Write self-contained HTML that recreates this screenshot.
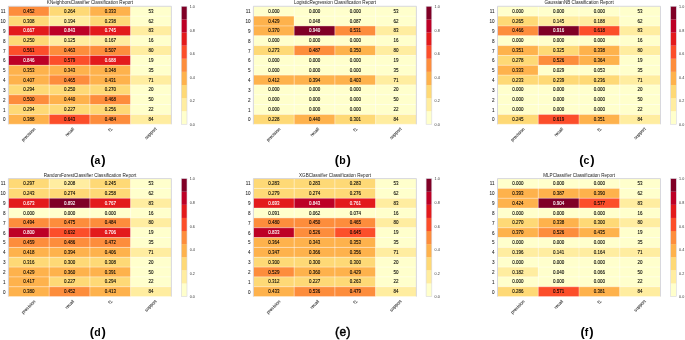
<!DOCTYPE html>
<html><head><meta charset="utf-8"><style>
html,body{margin:0;padding:0;background:#fff;width:685px;height:340px;overflow:hidden}
svg{display:block;will-change:transform}
text{font-family:"Liberation Sans",sans-serif}
.c{font-size:4.5px;text-anchor:middle;fill:#000;stroke:#000;stroke-width:0.08px}
.cw{fill:#fff;stroke:#fff}
.r{font-size:4.6px;text-anchor:end;fill:#222;stroke:#222;stroke-width:0.06px}
.t{font-size:4.6px;text-anchor:middle;fill:#222}
.x{font-size:4.4px;text-anchor:middle;fill:#333;stroke:#333;stroke-width:0.1px}
.k{font-size:3.7px;fill:#333}
.l{font-size:10.5px;font-weight:bold;text-anchor:middle;fill:#000}
.p{font-size:13px}
.le{font-weight:normal;stroke:#000;stroke-width:0.45px;font-size:12px}
.w{stroke:#fff;stroke-width:0.45;stroke-opacity:0.85}
.fr{fill:none;stroke:#d4d4dc;stroke-width:0.9}
.cbo{fill:none;stroke:#d8d8e0;stroke-width:0.6}
</style></head><body>
<svg width="685" height="340" viewBox="0 0 685 340">
<rect x="8.40" y="6.27" width="40.75" height="9.83" fill="#fd8d3c"/>
<rect x="49.15" y="6.27" width="40.75" height="9.83" fill="#fed976"/>
<rect x="89.90" y="6.27" width="40.75" height="9.83" fill="#feb24c"/>
<rect x="130.65" y="6.27" width="40.75" height="9.83" fill="#ffffcc"/>
<rect x="8.40" y="16.10" width="40.75" height="9.83" fill="#fed976"/>
<rect x="49.15" y="16.10" width="40.75" height="9.83" fill="#ffeda0"/>
<rect x="89.90" y="16.10" width="40.75" height="9.83" fill="#fed976"/>
<rect x="130.65" y="16.10" width="40.75" height="9.83" fill="#ffffcc"/>
<rect x="8.40" y="25.94" width="40.75" height="9.83" fill="#e31a1c"/>
<rect x="49.15" y="25.94" width="40.75" height="9.83" fill="#bd0026"/>
<rect x="89.90" y="25.94" width="40.75" height="9.83" fill="#e31a1c"/>
<rect x="130.65" y="25.94" width="40.75" height="9.83" fill="#ffeda0"/>
<rect x="8.40" y="35.77" width="40.75" height="9.83" fill="#fed976"/>
<rect x="49.15" y="35.77" width="40.75" height="9.83" fill="#ffeda0"/>
<rect x="89.90" y="35.77" width="40.75" height="9.83" fill="#ffeda0"/>
<rect x="130.65" y="35.77" width="40.75" height="9.83" fill="#ffffcc"/>
<rect x="8.40" y="45.60" width="40.75" height="9.83" fill="#fc4e2a"/>
<rect x="49.15" y="45.60" width="40.75" height="9.83" fill="#fd8d3c"/>
<rect x="89.90" y="45.60" width="40.75" height="9.83" fill="#fd8d3c"/>
<rect x="130.65" y="45.60" width="40.75" height="9.83" fill="#ffeda0"/>
<rect x="8.40" y="55.44" width="40.75" height="9.83" fill="#bd0026"/>
<rect x="49.15" y="55.44" width="40.75" height="9.83" fill="#fc4e2a"/>
<rect x="89.90" y="55.44" width="40.75" height="9.83" fill="#e31a1c"/>
<rect x="130.65" y="55.44" width="40.75" height="9.83" fill="#ffffcc"/>
<rect x="8.40" y="65.27" width="40.75" height="9.83" fill="#feb24c"/>
<rect x="49.15" y="65.27" width="40.75" height="9.83" fill="#feb24c"/>
<rect x="89.90" y="65.27" width="40.75" height="9.83" fill="#feb24c"/>
<rect x="130.65" y="65.27" width="40.75" height="9.83" fill="#ffffcc"/>
<rect x="8.40" y="75.10" width="40.75" height="9.83" fill="#feb24c"/>
<rect x="49.15" y="75.10" width="40.75" height="9.83" fill="#fd8d3c"/>
<rect x="89.90" y="75.10" width="40.75" height="9.83" fill="#feb24c"/>
<rect x="130.65" y="75.10" width="40.75" height="9.83" fill="#ffeda0"/>
<rect x="8.40" y="84.94" width="40.75" height="9.83" fill="#fed976"/>
<rect x="49.15" y="84.94" width="40.75" height="9.83" fill="#fed976"/>
<rect x="89.90" y="84.94" width="40.75" height="9.83" fill="#fed976"/>
<rect x="130.65" y="84.94" width="40.75" height="9.83" fill="#ffffcc"/>
<rect x="8.40" y="94.77" width="40.75" height="9.83" fill="#fd8d3c"/>
<rect x="49.15" y="94.77" width="40.75" height="9.83" fill="#feb24c"/>
<rect x="89.90" y="94.77" width="40.75" height="9.83" fill="#fd8d3c"/>
<rect x="130.65" y="94.77" width="40.75" height="9.83" fill="#ffffcc"/>
<rect x="8.40" y="104.60" width="40.75" height="9.83" fill="#fed976"/>
<rect x="49.15" y="104.60" width="40.75" height="9.83" fill="#fed976"/>
<rect x="89.90" y="104.60" width="40.75" height="9.83" fill="#fed976"/>
<rect x="130.65" y="104.60" width="40.75" height="9.83" fill="#ffffcc"/>
<rect x="8.40" y="114.44" width="40.75" height="9.83" fill="#feb24c"/>
<rect x="49.15" y="114.44" width="40.75" height="9.83" fill="#fc4e2a"/>
<rect x="89.90" y="114.44" width="40.75" height="9.83" fill="#fd8d3c"/>
<rect x="130.65" y="114.44" width="40.75" height="9.83" fill="#ffeda0"/>
<line x1="8.4" x2="171.4" y1="16.10" y2="16.10" class="w"/>
<line x1="8.4" x2="171.4" y1="25.94" y2="25.94" class="w"/>
<line x1="8.4" x2="171.4" y1="35.77" y2="35.77" class="w"/>
<line x1="8.4" x2="171.4" y1="45.60" y2="45.60" class="w"/>
<line x1="8.4" x2="171.4" y1="55.44" y2="55.44" class="w"/>
<line x1="8.4" x2="171.4" y1="65.27" y2="65.27" class="w"/>
<line x1="8.4" x2="171.4" y1="75.10" y2="75.10" class="w"/>
<line x1="8.4" x2="171.4" y1="84.94" y2="84.94" class="w"/>
<line x1="8.4" x2="171.4" y1="94.77" y2="94.77" class="w"/>
<line x1="8.4" x2="171.4" y1="104.60" y2="104.60" class="w"/>
<line x1="8.4" x2="171.4" y1="114.44" y2="114.44" class="w"/>
<line x1="8.4" x2="171.4" y1="124.27" y2="124.27" class="w"/>
<line x1="49.15" x2="49.15" y1="6.27" y2="124.27" class="w"/>
<line x1="89.90" x2="89.90" y1="6.27" y2="124.27" class="w"/>
<line x1="130.65" x2="130.65" y1="6.27" y2="124.27" class="w"/>
<path d="M8.4,124.27V6.27H171.4V124.27" class="fr"/>
<text x="28.77" y="12.79" class="c">0.452</text>
<text x="69.53" y="12.79" class="c">0.264</text>
<text x="110.28" y="12.79" class="c">0.333</text>
<text x="151.03" y="12.79" class="c">53</text>
<text x="5.50" y="13.19" class="r">11</text>
<text x="28.77" y="22.62" class="c">0.308</text>
<text x="69.53" y="22.62" class="c">0.194</text>
<text x="110.28" y="22.62" class="c">0.238</text>
<text x="151.03" y="22.62" class="c">62</text>
<text x="5.50" y="23.02" class="r">10</text>
<text x="28.77" y="32.45" class="c cw">0.667</text>
<text x="69.53" y="32.45" class="c cw">0.843</text>
<text x="110.28" y="32.45" class="c cw">0.745</text>
<text x="151.03" y="32.45" class="c">83</text>
<text x="5.50" y="32.85" class="r">9</text>
<text x="28.77" y="42.29" class="c">0.250</text>
<text x="69.53" y="42.29" class="c">0.125</text>
<text x="110.28" y="42.29" class="c">0.167</text>
<text x="151.03" y="42.29" class="c">16</text>
<text x="5.50" y="42.69" class="r">8</text>
<text x="28.77" y="52.12" class="c">0.561</text>
<text x="69.53" y="52.12" class="c">0.463</text>
<text x="110.28" y="52.12" class="c">0.507</text>
<text x="151.03" y="52.12" class="c">80</text>
<text x="5.50" y="52.52" class="r">7</text>
<text x="28.77" y="61.95" class="c cw">0.846</text>
<text x="69.53" y="61.95" class="c">0.579</text>
<text x="110.28" y="61.95" class="c cw">0.688</text>
<text x="151.03" y="61.95" class="c">19</text>
<text x="5.50" y="62.35" class="r">6</text>
<text x="28.77" y="71.79" class="c">0.353</text>
<text x="69.53" y="71.79" class="c">0.343</text>
<text x="110.28" y="71.79" class="c">0.348</text>
<text x="151.03" y="71.79" class="c">35</text>
<text x="5.50" y="72.19" class="r">5</text>
<text x="28.77" y="81.62" class="c">0.407</text>
<text x="69.53" y="81.62" class="c">0.465</text>
<text x="110.28" y="81.62" class="c">0.431</text>
<text x="151.03" y="81.62" class="c">71</text>
<text x="5.50" y="82.02" class="r">4</text>
<text x="28.77" y="91.45" class="c">0.294</text>
<text x="69.53" y="91.45" class="c">0.250</text>
<text x="110.28" y="91.45" class="c">0.270</text>
<text x="151.03" y="91.45" class="c">20</text>
<text x="5.50" y="91.85" class="r">3</text>
<text x="28.77" y="101.29" class="c">0.500</text>
<text x="69.53" y="101.29" class="c">0.440</text>
<text x="110.28" y="101.29" class="c">0.468</text>
<text x="151.03" y="101.29" class="c">50</text>
<text x="5.50" y="101.69" class="r">2</text>
<text x="28.77" y="111.12" class="c">0.294</text>
<text x="69.53" y="111.12" class="c">0.227</text>
<text x="110.28" y="111.12" class="c">0.256</text>
<text x="151.03" y="111.12" class="c">22</text>
<text x="5.50" y="111.52" class="r">1</text>
<text x="28.77" y="120.95" class="c">0.388</text>
<text x="69.53" y="120.95" class="c">0.643</text>
<text x="110.28" y="120.95" class="c">0.484</text>
<text x="151.03" y="120.95" class="c">84</text>
<text x="5.50" y="121.35" class="r">0</text>
<text x="90.00" y="4.27" class="t">KNeighborsClassifier Classification Report</text>
<text class="x" transform="translate(28.77,134.84) rotate(-45)" y="1.12">precision</text>
<text class="x" transform="translate(69.53,132.02) rotate(-45)" y="1.56">recall</text>
<text class="x" transform="translate(110.28,129.59) rotate(-45)" y="1.58">f1</text>
<text class="x" transform="translate(151.03,133.70) rotate(-45)" y="0.97">support</text>
<rect x="181.3" y="111.16" width="5.7" height="13.16" fill="#ffffcc"/>
<rect x="181.3" y="98.05" width="5.7" height="13.16" fill="#ffeda0"/>
<rect x="181.3" y="84.94" width="5.7" height="13.16" fill="#fed976"/>
<rect x="181.3" y="71.83" width="5.7" height="13.16" fill="#feb24c"/>
<rect x="181.3" y="58.71" width="5.7" height="13.16" fill="#fd8d3c"/>
<rect x="181.3" y="45.60" width="5.7" height="13.16" fill="#fc4e2a"/>
<rect x="181.3" y="32.49" width="5.7" height="13.16" fill="#e31a1c"/>
<rect x="181.3" y="19.38" width="5.7" height="13.16" fill="#bd0026"/>
<rect x="181.3" y="6.27" width="5.7" height="13.16" fill="#800026"/>
<rect x="181.3" y="6.27" width="5.7" height="118" class="cbo"/>
<text x="189.80" y="126.02" class="k">0.0</text>
<text x="189.80" y="102.42" class="k">0.2</text>
<text x="189.80" y="78.82" class="k">0.4</text>
<text x="189.80" y="55.22" class="k">0.6</text>
<text x="189.80" y="31.62" class="k">0.8</text>
<text x="189.80" y="8.02" class="k">1.0</text>
<text x="97.85" y="163.5" class="l"><tspan class="p">(</tspan>a<tspan class="p" dx="0.9">)</tspan></text>
<rect x="253.40" y="6.27" width="40.75" height="9.83" fill="#ffffcc"/>
<rect x="294.15" y="6.27" width="40.75" height="9.83" fill="#ffffcc"/>
<rect x="334.90" y="6.27" width="40.75" height="9.83" fill="#ffffcc"/>
<rect x="375.65" y="6.27" width="40.75" height="9.83" fill="#ffffcc"/>
<rect x="253.40" y="16.10" width="40.75" height="9.83" fill="#feb24c"/>
<rect x="294.15" y="16.10" width="40.75" height="9.83" fill="#ffffcc"/>
<rect x="334.90" y="16.10" width="40.75" height="9.83" fill="#ffffcc"/>
<rect x="375.65" y="16.10" width="40.75" height="9.83" fill="#ffffcc"/>
<rect x="253.40" y="25.94" width="40.75" height="9.83" fill="#feb24c"/>
<rect x="294.15" y="25.94" width="40.75" height="9.83" fill="#800026"/>
<rect x="334.90" y="25.94" width="40.75" height="9.83" fill="#fd8d3c"/>
<rect x="375.65" y="25.94" width="40.75" height="9.83" fill="#ffeda0"/>
<rect x="253.40" y="35.77" width="40.75" height="9.83" fill="#ffffcc"/>
<rect x="294.15" y="35.77" width="40.75" height="9.83" fill="#ffffcc"/>
<rect x="334.90" y="35.77" width="40.75" height="9.83" fill="#ffffcc"/>
<rect x="375.65" y="35.77" width="40.75" height="9.83" fill="#ffffcc"/>
<rect x="253.40" y="45.60" width="40.75" height="9.83" fill="#fed976"/>
<rect x="294.15" y="45.60" width="40.75" height="9.83" fill="#fd8d3c"/>
<rect x="334.90" y="45.60" width="40.75" height="9.83" fill="#feb24c"/>
<rect x="375.65" y="45.60" width="40.75" height="9.83" fill="#ffeda0"/>
<rect x="253.40" y="55.44" width="40.75" height="9.83" fill="#ffffcc"/>
<rect x="294.15" y="55.44" width="40.75" height="9.83" fill="#ffffcc"/>
<rect x="334.90" y="55.44" width="40.75" height="9.83" fill="#ffffcc"/>
<rect x="375.65" y="55.44" width="40.75" height="9.83" fill="#ffffcc"/>
<rect x="253.40" y="65.27" width="40.75" height="9.83" fill="#ffffcc"/>
<rect x="294.15" y="65.27" width="40.75" height="9.83" fill="#ffffcc"/>
<rect x="334.90" y="65.27" width="40.75" height="9.83" fill="#ffffcc"/>
<rect x="375.65" y="65.27" width="40.75" height="9.83" fill="#ffffcc"/>
<rect x="253.40" y="75.10" width="40.75" height="9.83" fill="#feb24c"/>
<rect x="294.15" y="75.10" width="40.75" height="9.83" fill="#feb24c"/>
<rect x="334.90" y="75.10" width="40.75" height="9.83" fill="#feb24c"/>
<rect x="375.65" y="75.10" width="40.75" height="9.83" fill="#ffeda0"/>
<rect x="253.40" y="84.94" width="40.75" height="9.83" fill="#ffffcc"/>
<rect x="294.15" y="84.94" width="40.75" height="9.83" fill="#ffffcc"/>
<rect x="334.90" y="84.94" width="40.75" height="9.83" fill="#ffffcc"/>
<rect x="375.65" y="84.94" width="40.75" height="9.83" fill="#ffffcc"/>
<rect x="253.40" y="94.77" width="40.75" height="9.83" fill="#ffffcc"/>
<rect x="294.15" y="94.77" width="40.75" height="9.83" fill="#ffffcc"/>
<rect x="334.90" y="94.77" width="40.75" height="9.83" fill="#ffffcc"/>
<rect x="375.65" y="94.77" width="40.75" height="9.83" fill="#ffffcc"/>
<rect x="253.40" y="104.60" width="40.75" height="9.83" fill="#ffffcc"/>
<rect x="294.15" y="104.60" width="40.75" height="9.83" fill="#ffffcc"/>
<rect x="334.90" y="104.60" width="40.75" height="9.83" fill="#ffffcc"/>
<rect x="375.65" y="104.60" width="40.75" height="9.83" fill="#ffffcc"/>
<rect x="253.40" y="114.44" width="40.75" height="9.83" fill="#fed976"/>
<rect x="294.15" y="114.44" width="40.75" height="9.83" fill="#feb24c"/>
<rect x="334.90" y="114.44" width="40.75" height="9.83" fill="#fed976"/>
<rect x="375.65" y="114.44" width="40.75" height="9.83" fill="#ffeda0"/>
<line x1="253.4" x2="416.4" y1="16.10" y2="16.10" class="w"/>
<line x1="253.4" x2="416.4" y1="25.94" y2="25.94" class="w"/>
<line x1="253.4" x2="416.4" y1="35.77" y2="35.77" class="w"/>
<line x1="253.4" x2="416.4" y1="45.60" y2="45.60" class="w"/>
<line x1="253.4" x2="416.4" y1="55.44" y2="55.44" class="w"/>
<line x1="253.4" x2="416.4" y1="65.27" y2="65.27" class="w"/>
<line x1="253.4" x2="416.4" y1="75.10" y2="75.10" class="w"/>
<line x1="253.4" x2="416.4" y1="84.94" y2="84.94" class="w"/>
<line x1="253.4" x2="416.4" y1="94.77" y2="94.77" class="w"/>
<line x1="253.4" x2="416.4" y1="104.60" y2="104.60" class="w"/>
<line x1="253.4" x2="416.4" y1="114.44" y2="114.44" class="w"/>
<line x1="253.4" x2="416.4" y1="124.27" y2="124.27" class="w"/>
<line x1="294.15" x2="294.15" y1="6.27" y2="124.27" class="w"/>
<line x1="334.90" x2="334.90" y1="6.27" y2="124.27" class="w"/>
<line x1="375.65" x2="375.65" y1="6.27" y2="124.27" class="w"/>
<path d="M253.4,124.27V6.27H416.4V124.27" class="fr"/>
<text x="273.77" y="12.79" class="c">0.000</text>
<text x="314.52" y="12.79" class="c">0.000</text>
<text x="355.27" y="12.79" class="c">0.000</text>
<text x="396.02" y="12.79" class="c">53</text>
<text x="250.50" y="13.19" class="r">11</text>
<text x="273.77" y="22.62" class="c">0.429</text>
<text x="314.52" y="22.62" class="c">0.048</text>
<text x="355.27" y="22.62" class="c">0.087</text>
<text x="396.02" y="22.62" class="c">62</text>
<text x="250.50" y="23.02" class="r">10</text>
<text x="273.77" y="32.45" class="c">0.370</text>
<text x="314.52" y="32.45" class="c cw">0.940</text>
<text x="355.27" y="32.45" class="c">0.531</text>
<text x="396.02" y="32.45" class="c">83</text>
<text x="250.50" y="32.85" class="r">9</text>
<text x="273.77" y="42.29" class="c">0.000</text>
<text x="314.52" y="42.29" class="c">0.000</text>
<text x="355.27" y="42.29" class="c">0.000</text>
<text x="396.02" y="42.29" class="c">16</text>
<text x="250.50" y="42.69" class="r">8</text>
<text x="273.77" y="52.12" class="c">0.273</text>
<text x="314.52" y="52.12" class="c">0.487</text>
<text x="355.27" y="52.12" class="c">0.350</text>
<text x="396.02" y="52.12" class="c">80</text>
<text x="250.50" y="52.52" class="r">7</text>
<text x="273.77" y="61.95" class="c">0.000</text>
<text x="314.52" y="61.95" class="c">0.000</text>
<text x="355.27" y="61.95" class="c">0.000</text>
<text x="396.02" y="61.95" class="c">19</text>
<text x="250.50" y="62.35" class="r">6</text>
<text x="273.77" y="71.79" class="c">0.000</text>
<text x="314.52" y="71.79" class="c">0.000</text>
<text x="355.27" y="71.79" class="c">0.000</text>
<text x="396.02" y="71.79" class="c">35</text>
<text x="250.50" y="72.19" class="r">5</text>
<text x="273.77" y="81.62" class="c">0.412</text>
<text x="314.52" y="81.62" class="c">0.394</text>
<text x="355.27" y="81.62" class="c">0.403</text>
<text x="396.02" y="81.62" class="c">71</text>
<text x="250.50" y="82.02" class="r">4</text>
<text x="273.77" y="91.45" class="c">0.000</text>
<text x="314.52" y="91.45" class="c">0.000</text>
<text x="355.27" y="91.45" class="c">0.000</text>
<text x="396.02" y="91.45" class="c">20</text>
<text x="250.50" y="91.85" class="r">3</text>
<text x="273.77" y="101.29" class="c">0.000</text>
<text x="314.52" y="101.29" class="c">0.000</text>
<text x="355.27" y="101.29" class="c">0.000</text>
<text x="396.02" y="101.29" class="c">50</text>
<text x="250.50" y="101.69" class="r">2</text>
<text x="273.77" y="111.12" class="c">0.000</text>
<text x="314.52" y="111.12" class="c">0.000</text>
<text x="355.27" y="111.12" class="c">0.000</text>
<text x="396.02" y="111.12" class="c">22</text>
<text x="250.50" y="111.52" class="r">1</text>
<text x="273.77" y="120.95" class="c">0.228</text>
<text x="314.52" y="120.95" class="c">0.440</text>
<text x="355.27" y="120.95" class="c">0.301</text>
<text x="396.02" y="120.95" class="c">84</text>
<text x="250.50" y="121.35" class="r">0</text>
<text x="335.00" y="4.27" class="t">LogisticRegression Classification Report</text>
<text class="x" transform="translate(273.77,134.84) rotate(-45)" y="1.12">precision</text>
<text class="x" transform="translate(314.52,132.02) rotate(-45)" y="1.56">recall</text>
<text class="x" transform="translate(355.27,129.59) rotate(-45)" y="1.58">f1</text>
<text class="x" transform="translate(396.02,133.70) rotate(-45)" y="0.97">support</text>
<rect x="426.1" y="111.16" width="5.7" height="13.16" fill="#ffffcc"/>
<rect x="426.1" y="98.05" width="5.7" height="13.16" fill="#ffeda0"/>
<rect x="426.1" y="84.94" width="5.7" height="13.16" fill="#fed976"/>
<rect x="426.1" y="71.83" width="5.7" height="13.16" fill="#feb24c"/>
<rect x="426.1" y="58.71" width="5.7" height="13.16" fill="#fd8d3c"/>
<rect x="426.1" y="45.60" width="5.7" height="13.16" fill="#fc4e2a"/>
<rect x="426.1" y="32.49" width="5.7" height="13.16" fill="#e31a1c"/>
<rect x="426.1" y="19.38" width="5.7" height="13.16" fill="#bd0026"/>
<rect x="426.1" y="6.27" width="5.7" height="13.16" fill="#800026"/>
<rect x="426.1" y="6.27" width="5.7" height="118" class="cbo"/>
<text x="434.60" y="126.02" class="k">0.0</text>
<text x="434.60" y="102.42" class="k">0.2</text>
<text x="434.60" y="78.82" class="k">0.4</text>
<text x="434.60" y="55.22" class="k">0.6</text>
<text x="434.60" y="31.62" class="k">0.8</text>
<text x="434.60" y="8.02" class="k">1.0</text>
<text x="342.85" y="163.5" class="l"><tspan class="p">(</tspan>b<tspan class="p" dx="0.9">)</tspan></text>
<rect x="497.50" y="6.27" width="40.75" height="9.83" fill="#ffffcc"/>
<rect x="538.25" y="6.27" width="40.75" height="9.83" fill="#ffffcc"/>
<rect x="579.00" y="6.27" width="40.75" height="9.83" fill="#ffffcc"/>
<rect x="619.75" y="6.27" width="40.75" height="9.83" fill="#ffffcc"/>
<rect x="497.50" y="16.10" width="40.75" height="9.83" fill="#fed976"/>
<rect x="538.25" y="16.10" width="40.75" height="9.83" fill="#ffeda0"/>
<rect x="579.00" y="16.10" width="40.75" height="9.83" fill="#ffeda0"/>
<rect x="619.75" y="16.10" width="40.75" height="9.83" fill="#ffffcc"/>
<rect x="497.50" y="25.94" width="40.75" height="9.83" fill="#fd8d3c"/>
<rect x="538.25" y="25.94" width="40.75" height="9.83" fill="#800026"/>
<rect x="579.00" y="25.94" width="40.75" height="9.83" fill="#fc4e2a"/>
<rect x="619.75" y="25.94" width="40.75" height="9.83" fill="#ffeda0"/>
<rect x="497.50" y="35.77" width="40.75" height="9.83" fill="#ffffcc"/>
<rect x="538.25" y="35.77" width="40.75" height="9.83" fill="#ffffcc"/>
<rect x="579.00" y="35.77" width="40.75" height="9.83" fill="#ffffcc"/>
<rect x="619.75" y="35.77" width="40.75" height="9.83" fill="#ffffcc"/>
<rect x="497.50" y="45.60" width="40.75" height="9.83" fill="#feb24c"/>
<rect x="538.25" y="45.60" width="40.75" height="9.83" fill="#fed976"/>
<rect x="579.00" y="45.60" width="40.75" height="9.83" fill="#feb24c"/>
<rect x="619.75" y="45.60" width="40.75" height="9.83" fill="#ffeda0"/>
<rect x="497.50" y="55.44" width="40.75" height="9.83" fill="#fed976"/>
<rect x="538.25" y="55.44" width="40.75" height="9.83" fill="#fd8d3c"/>
<rect x="579.00" y="55.44" width="40.75" height="9.83" fill="#feb24c"/>
<rect x="619.75" y="55.44" width="40.75" height="9.83" fill="#ffffcc"/>
<rect x="497.50" y="65.27" width="40.75" height="9.83" fill="#feb24c"/>
<rect x="538.25" y="65.27" width="40.75" height="9.83" fill="#ffffcc"/>
<rect x="579.00" y="65.27" width="40.75" height="9.83" fill="#ffffcc"/>
<rect x="619.75" y="65.27" width="40.75" height="9.83" fill="#ffffcc"/>
<rect x="497.50" y="75.10" width="40.75" height="9.83" fill="#fed976"/>
<rect x="538.25" y="75.10" width="40.75" height="9.83" fill="#fed976"/>
<rect x="579.00" y="75.10" width="40.75" height="9.83" fill="#fed976"/>
<rect x="619.75" y="75.10" width="40.75" height="9.83" fill="#ffeda0"/>
<rect x="497.50" y="84.94" width="40.75" height="9.83" fill="#ffffcc"/>
<rect x="538.25" y="84.94" width="40.75" height="9.83" fill="#ffffcc"/>
<rect x="579.00" y="84.94" width="40.75" height="9.83" fill="#ffffcc"/>
<rect x="619.75" y="84.94" width="40.75" height="9.83" fill="#ffffcc"/>
<rect x="497.50" y="94.77" width="40.75" height="9.83" fill="#ffffcc"/>
<rect x="538.25" y="94.77" width="40.75" height="9.83" fill="#ffffcc"/>
<rect x="579.00" y="94.77" width="40.75" height="9.83" fill="#ffffcc"/>
<rect x="619.75" y="94.77" width="40.75" height="9.83" fill="#ffffcc"/>
<rect x="497.50" y="104.60" width="40.75" height="9.83" fill="#ffffcc"/>
<rect x="538.25" y="104.60" width="40.75" height="9.83" fill="#ffffcc"/>
<rect x="579.00" y="104.60" width="40.75" height="9.83" fill="#ffffcc"/>
<rect x="619.75" y="104.60" width="40.75" height="9.83" fill="#ffffcc"/>
<rect x="497.50" y="114.44" width="40.75" height="9.83" fill="#fed976"/>
<rect x="538.25" y="114.44" width="40.75" height="9.83" fill="#fc4e2a"/>
<rect x="579.00" y="114.44" width="40.75" height="9.83" fill="#feb24c"/>
<rect x="619.75" y="114.44" width="40.75" height="9.83" fill="#ffeda0"/>
<line x1="497.5" x2="660.5" y1="16.10" y2="16.10" class="w"/>
<line x1="497.5" x2="660.5" y1="25.94" y2="25.94" class="w"/>
<line x1="497.5" x2="660.5" y1="35.77" y2="35.77" class="w"/>
<line x1="497.5" x2="660.5" y1="45.60" y2="45.60" class="w"/>
<line x1="497.5" x2="660.5" y1="55.44" y2="55.44" class="w"/>
<line x1="497.5" x2="660.5" y1="65.27" y2="65.27" class="w"/>
<line x1="497.5" x2="660.5" y1="75.10" y2="75.10" class="w"/>
<line x1="497.5" x2="660.5" y1="84.94" y2="84.94" class="w"/>
<line x1="497.5" x2="660.5" y1="94.77" y2="94.77" class="w"/>
<line x1="497.5" x2="660.5" y1="104.60" y2="104.60" class="w"/>
<line x1="497.5" x2="660.5" y1="114.44" y2="114.44" class="w"/>
<line x1="497.5" x2="660.5" y1="124.27" y2="124.27" class="w"/>
<line x1="538.25" x2="538.25" y1="6.27" y2="124.27" class="w"/>
<line x1="579.00" x2="579.00" y1="6.27" y2="124.27" class="w"/>
<line x1="619.75" x2="619.75" y1="6.27" y2="124.27" class="w"/>
<path d="M497.5,124.27V6.27H660.5V124.27" class="fr"/>
<text x="517.88" y="12.79" class="c">0.000</text>
<text x="558.62" y="12.79" class="c">0.000</text>
<text x="599.38" y="12.79" class="c">0.000</text>
<text x="640.12" y="12.79" class="c">53</text>
<text x="494.60" y="13.19" class="r">11</text>
<text x="517.88" y="22.62" class="c">0.265</text>
<text x="558.62" y="22.62" class="c">0.145</text>
<text x="599.38" y="22.62" class="c">0.188</text>
<text x="640.12" y="22.62" class="c">62</text>
<text x="494.60" y="23.02" class="r">10</text>
<text x="517.88" y="32.45" class="c">0.466</text>
<text x="558.62" y="32.45" class="c cw">0.916</text>
<text x="599.38" y="32.45" class="c">0.618</text>
<text x="640.12" y="32.45" class="c">83</text>
<text x="494.60" y="32.85" class="r">9</text>
<text x="517.88" y="42.29" class="c">0.000</text>
<text x="558.62" y="42.29" class="c">0.000</text>
<text x="599.38" y="42.29" class="c">0.000</text>
<text x="640.12" y="42.29" class="c">16</text>
<text x="494.60" y="42.69" class="r">8</text>
<text x="517.88" y="52.12" class="c">0.351</text>
<text x="558.62" y="52.12" class="c">0.325</text>
<text x="599.38" y="52.12" class="c">0.338</text>
<text x="640.12" y="52.12" class="c">80</text>
<text x="494.60" y="52.52" class="r">7</text>
<text x="517.88" y="61.95" class="c">0.278</text>
<text x="558.62" y="61.95" class="c">0.526</text>
<text x="599.38" y="61.95" class="c">0.364</text>
<text x="640.12" y="61.95" class="c">19</text>
<text x="494.60" y="62.35" class="r">6</text>
<text x="517.88" y="71.79" class="c">0.333</text>
<text x="558.62" y="71.79" class="c">0.029</text>
<text x="599.38" y="71.79" class="c">0.053</text>
<text x="640.12" y="71.79" class="c">35</text>
<text x="494.60" y="72.19" class="r">5</text>
<text x="517.88" y="81.62" class="c">0.233</text>
<text x="558.62" y="81.62" class="c">0.239</text>
<text x="599.38" y="81.62" class="c">0.236</text>
<text x="640.12" y="81.62" class="c">71</text>
<text x="494.60" y="82.02" class="r">4</text>
<text x="517.88" y="91.45" class="c">0.000</text>
<text x="558.62" y="91.45" class="c">0.000</text>
<text x="599.38" y="91.45" class="c">0.000</text>
<text x="640.12" y="91.45" class="c">20</text>
<text x="494.60" y="91.85" class="r">3</text>
<text x="517.88" y="101.29" class="c">0.000</text>
<text x="558.62" y="101.29" class="c">0.000</text>
<text x="599.38" y="101.29" class="c">0.000</text>
<text x="640.12" y="101.29" class="c">50</text>
<text x="494.60" y="101.69" class="r">2</text>
<text x="517.88" y="111.12" class="c">0.000</text>
<text x="558.62" y="111.12" class="c">0.000</text>
<text x="599.38" y="111.12" class="c">0.000</text>
<text x="640.12" y="111.12" class="c">22</text>
<text x="494.60" y="111.52" class="r">1</text>
<text x="517.88" y="120.95" class="c">0.245</text>
<text x="558.62" y="120.95" class="c">0.619</text>
<text x="599.38" y="120.95" class="c">0.351</text>
<text x="640.12" y="120.95" class="c">84</text>
<text x="494.60" y="121.35" class="r">0</text>
<text x="579.10" y="4.27" class="t">GaussianNB Classification Report</text>
<text class="x" transform="translate(517.88,134.84) rotate(-45)" y="1.12">precision</text>
<text class="x" transform="translate(558.62,132.02) rotate(-45)" y="1.56">recall</text>
<text class="x" transform="translate(599.38,129.59) rotate(-45)" y="1.58">f1</text>
<text class="x" transform="translate(640.12,133.70) rotate(-45)" y="0.97">support</text>
<rect x="670.6" y="111.16" width="5.7" height="13.16" fill="#ffffcc"/>
<rect x="670.6" y="98.05" width="5.7" height="13.16" fill="#ffeda0"/>
<rect x="670.6" y="84.94" width="5.7" height="13.16" fill="#fed976"/>
<rect x="670.6" y="71.83" width="5.7" height="13.16" fill="#feb24c"/>
<rect x="670.6" y="58.71" width="5.7" height="13.16" fill="#fd8d3c"/>
<rect x="670.6" y="45.60" width="5.7" height="13.16" fill="#fc4e2a"/>
<rect x="670.6" y="32.49" width="5.7" height="13.16" fill="#e31a1c"/>
<rect x="670.6" y="19.38" width="5.7" height="13.16" fill="#bd0026"/>
<rect x="670.6" y="6.27" width="5.7" height="13.16" fill="#800026"/>
<rect x="670.6" y="6.27" width="5.7" height="118" class="cbo"/>
<text x="679.10" y="126.02" class="k">0.0</text>
<text x="679.10" y="102.42" class="k">0.2</text>
<text x="679.10" y="78.82" class="k">0.4</text>
<text x="679.10" y="55.22" class="k">0.6</text>
<text x="679.10" y="31.62" class="k">0.8</text>
<text x="679.10" y="8.02" class="k">1.0</text>
<text x="586.95" y="163.5" class="l"><tspan class="p">(</tspan>c<tspan class="p" dx="0.9">)</tspan></text>
<rect x="8.40" y="178.57" width="40.75" height="9.83" fill="#fed976"/>
<rect x="49.15" y="178.57" width="40.75" height="9.83" fill="#ffeda0"/>
<rect x="89.90" y="178.57" width="40.75" height="9.83" fill="#fed976"/>
<rect x="130.65" y="178.57" width="40.75" height="9.83" fill="#ffffcc"/>
<rect x="8.40" y="188.40" width="40.75" height="9.83" fill="#fed976"/>
<rect x="49.15" y="188.40" width="40.75" height="9.83" fill="#fed976"/>
<rect x="89.90" y="188.40" width="40.75" height="9.83" fill="#fed976"/>
<rect x="130.65" y="188.40" width="40.75" height="9.83" fill="#ffffcc"/>
<rect x="8.40" y="198.24" width="40.75" height="9.83" fill="#e31a1c"/>
<rect x="49.15" y="198.24" width="40.75" height="9.83" fill="#800026"/>
<rect x="89.90" y="198.24" width="40.75" height="9.83" fill="#e31a1c"/>
<rect x="130.65" y="198.24" width="40.75" height="9.83" fill="#ffeda0"/>
<rect x="8.40" y="208.07" width="40.75" height="9.83" fill="#ffffcc"/>
<rect x="49.15" y="208.07" width="40.75" height="9.83" fill="#ffffcc"/>
<rect x="89.90" y="208.07" width="40.75" height="9.83" fill="#ffffcc"/>
<rect x="130.65" y="208.07" width="40.75" height="9.83" fill="#ffffcc"/>
<rect x="8.40" y="217.90" width="40.75" height="9.83" fill="#fd8d3c"/>
<rect x="49.15" y="217.90" width="40.75" height="9.83" fill="#fd8d3c"/>
<rect x="89.90" y="217.90" width="40.75" height="9.83" fill="#fd8d3c"/>
<rect x="130.65" y="217.90" width="40.75" height="9.83" fill="#ffeda0"/>
<rect x="8.40" y="227.74" width="40.75" height="9.83" fill="#bd0026"/>
<rect x="49.15" y="227.74" width="40.75" height="9.83" fill="#fc4e2a"/>
<rect x="89.90" y="227.74" width="40.75" height="9.83" fill="#e31a1c"/>
<rect x="130.65" y="227.74" width="40.75" height="9.83" fill="#ffffcc"/>
<rect x="8.40" y="237.57" width="40.75" height="9.83" fill="#fd8d3c"/>
<rect x="49.15" y="237.57" width="40.75" height="9.83" fill="#fd8d3c"/>
<rect x="89.90" y="237.57" width="40.75" height="9.83" fill="#fd8d3c"/>
<rect x="130.65" y="237.57" width="40.75" height="9.83" fill="#ffffcc"/>
<rect x="8.40" y="247.40" width="40.75" height="9.83" fill="#feb24c"/>
<rect x="49.15" y="247.40" width="40.75" height="9.83" fill="#feb24c"/>
<rect x="89.90" y="247.40" width="40.75" height="9.83" fill="#feb24c"/>
<rect x="130.65" y="247.40" width="40.75" height="9.83" fill="#ffeda0"/>
<rect x="8.40" y="257.24" width="40.75" height="9.83" fill="#fed976"/>
<rect x="49.15" y="257.24" width="40.75" height="9.83" fill="#fed976"/>
<rect x="89.90" y="257.24" width="40.75" height="9.83" fill="#fed976"/>
<rect x="130.65" y="257.24" width="40.75" height="9.83" fill="#ffffcc"/>
<rect x="8.40" y="267.07" width="40.75" height="9.83" fill="#feb24c"/>
<rect x="49.15" y="267.07" width="40.75" height="9.83" fill="#feb24c"/>
<rect x="89.90" y="267.07" width="40.75" height="9.83" fill="#feb24c"/>
<rect x="130.65" y="267.07" width="40.75" height="9.83" fill="#ffffcc"/>
<rect x="8.40" y="276.90" width="40.75" height="9.83" fill="#feb24c"/>
<rect x="49.15" y="276.90" width="40.75" height="9.83" fill="#fed976"/>
<rect x="89.90" y="276.90" width="40.75" height="9.83" fill="#fed976"/>
<rect x="130.65" y="276.90" width="40.75" height="9.83" fill="#ffffcc"/>
<rect x="8.40" y="286.74" width="40.75" height="9.83" fill="#feb24c"/>
<rect x="49.15" y="286.74" width="40.75" height="9.83" fill="#fd8d3c"/>
<rect x="89.90" y="286.74" width="40.75" height="9.83" fill="#feb24c"/>
<rect x="130.65" y="286.74" width="40.75" height="9.83" fill="#ffeda0"/>
<line x1="8.4" x2="171.4" y1="188.40" y2="188.40" class="w"/>
<line x1="8.4" x2="171.4" y1="198.24" y2="198.24" class="w"/>
<line x1="8.4" x2="171.4" y1="208.07" y2="208.07" class="w"/>
<line x1="8.4" x2="171.4" y1="217.90" y2="217.90" class="w"/>
<line x1="8.4" x2="171.4" y1="227.74" y2="227.74" class="w"/>
<line x1="8.4" x2="171.4" y1="237.57" y2="237.57" class="w"/>
<line x1="8.4" x2="171.4" y1="247.40" y2="247.40" class="w"/>
<line x1="8.4" x2="171.4" y1="257.24" y2="257.24" class="w"/>
<line x1="8.4" x2="171.4" y1="267.07" y2="267.07" class="w"/>
<line x1="8.4" x2="171.4" y1="276.90" y2="276.90" class="w"/>
<line x1="8.4" x2="171.4" y1="286.74" y2="286.74" class="w"/>
<line x1="8.4" x2="171.4" y1="296.57" y2="296.57" class="w"/>
<line x1="49.15" x2="49.15" y1="178.57" y2="296.57" class="w"/>
<line x1="89.90" x2="89.90" y1="178.57" y2="296.57" class="w"/>
<line x1="130.65" x2="130.65" y1="178.57" y2="296.57" class="w"/>
<path d="M8.4,296.57V178.57H171.4V296.57" class="fr"/>
<text x="28.77" y="185.09" class="c">0.297</text>
<text x="69.53" y="185.09" class="c">0.208</text>
<text x="110.28" y="185.09" class="c">0.245</text>
<text x="151.03" y="185.09" class="c">53</text>
<text x="5.50" y="185.49" class="r">11</text>
<text x="28.77" y="194.92" class="c">0.243</text>
<text x="69.53" y="194.92" class="c">0.274</text>
<text x="110.28" y="194.92" class="c">0.258</text>
<text x="151.03" y="194.92" class="c">62</text>
<text x="5.50" y="195.32" class="r">10</text>
<text x="28.77" y="204.75" class="c cw">0.673</text>
<text x="69.53" y="204.75" class="c cw">0.892</text>
<text x="110.28" y="204.75" class="c cw">0.767</text>
<text x="151.03" y="204.75" class="c">83</text>
<text x="5.50" y="205.15" class="r">9</text>
<text x="28.77" y="214.59" class="c">0.000</text>
<text x="69.53" y="214.59" class="c">0.000</text>
<text x="110.28" y="214.59" class="c">0.000</text>
<text x="151.03" y="214.59" class="c">16</text>
<text x="5.50" y="214.99" class="r">8</text>
<text x="28.77" y="224.42" class="c">0.494</text>
<text x="69.53" y="224.42" class="c">0.475</text>
<text x="110.28" y="224.42" class="c">0.484</text>
<text x="151.03" y="224.42" class="c">80</text>
<text x="5.50" y="224.82" class="r">7</text>
<text x="28.77" y="234.25" class="c cw">0.800</text>
<text x="69.53" y="234.25" class="c">0.632</text>
<text x="110.28" y="234.25" class="c cw">0.706</text>
<text x="151.03" y="234.25" class="c">19</text>
<text x="5.50" y="234.65" class="r">6</text>
<text x="28.77" y="244.09" class="c">0.459</text>
<text x="69.53" y="244.09" class="c">0.486</text>
<text x="110.28" y="244.09" class="c">0.472</text>
<text x="151.03" y="244.09" class="c">35</text>
<text x="5.50" y="244.49" class="r">5</text>
<text x="28.77" y="253.92" class="c">0.418</text>
<text x="69.53" y="253.92" class="c">0.394</text>
<text x="110.28" y="253.92" class="c">0.406</text>
<text x="151.03" y="253.92" class="c">71</text>
<text x="5.50" y="254.32" class="r">4</text>
<text x="28.77" y="263.75" class="c">0.316</text>
<text x="69.53" y="263.75" class="c">0.300</text>
<text x="110.28" y="263.75" class="c">0.308</text>
<text x="151.03" y="263.75" class="c">20</text>
<text x="5.50" y="264.15" class="r">3</text>
<text x="28.77" y="273.59" class="c">0.429</text>
<text x="69.53" y="273.59" class="c">0.360</text>
<text x="110.28" y="273.59" class="c">0.391</text>
<text x="151.03" y="273.59" class="c">50</text>
<text x="5.50" y="273.99" class="r">2</text>
<text x="28.77" y="283.42" class="c">0.417</text>
<text x="69.53" y="283.42" class="c">0.227</text>
<text x="110.28" y="283.42" class="c">0.294</text>
<text x="151.03" y="283.42" class="c">22</text>
<text x="5.50" y="283.82" class="r">1</text>
<text x="28.77" y="293.25" class="c">0.380</text>
<text x="69.53" y="293.25" class="c">0.452</text>
<text x="110.28" y="293.25" class="c">0.413</text>
<text x="151.03" y="293.25" class="c">84</text>
<text x="5.50" y="293.65" class="r">0</text>
<text x="90.00" y="176.57" class="t">RandomForestClassifier Classification Report</text>
<text class="x" transform="translate(28.77,307.14) rotate(-45)" y="1.12">precision</text>
<text class="x" transform="translate(69.53,304.32) rotate(-45)" y="1.56">recall</text>
<text class="x" transform="translate(110.28,301.89) rotate(-45)" y="1.58">f1</text>
<text class="x" transform="translate(151.03,306.00) rotate(-45)" y="0.97">support</text>
<rect x="181.3" y="283.46" width="5.7" height="13.16" fill="#ffffcc"/>
<rect x="181.3" y="270.35" width="5.7" height="13.16" fill="#ffeda0"/>
<rect x="181.3" y="257.24" width="5.7" height="13.16" fill="#fed976"/>
<rect x="181.3" y="244.13" width="5.7" height="13.16" fill="#feb24c"/>
<rect x="181.3" y="231.01" width="5.7" height="13.16" fill="#fd8d3c"/>
<rect x="181.3" y="217.90" width="5.7" height="13.16" fill="#fc4e2a"/>
<rect x="181.3" y="204.79" width="5.7" height="13.16" fill="#e31a1c"/>
<rect x="181.3" y="191.68" width="5.7" height="13.16" fill="#bd0026"/>
<rect x="181.3" y="178.57" width="5.7" height="13.16" fill="#800026"/>
<rect x="181.3" y="178.57" width="5.7" height="118" class="cbo"/>
<text x="189.80" y="298.32" class="k">0.0</text>
<text x="189.80" y="274.72" class="k">0.2</text>
<text x="189.80" y="251.12" class="k">0.4</text>
<text x="189.80" y="227.52" class="k">0.6</text>
<text x="189.80" y="203.92" class="k">0.8</text>
<text x="189.80" y="180.32" class="k">1.0</text>
<text x="97.85" y="336.0" class="l"><tspan class="p">(</tspan>d<tspan class="p" dx="0.9">)</tspan></text>
<rect x="253.40" y="178.57" width="40.75" height="9.83" fill="#fed976"/>
<rect x="294.15" y="178.57" width="40.75" height="9.83" fill="#fed976"/>
<rect x="334.90" y="178.57" width="40.75" height="9.83" fill="#fed976"/>
<rect x="375.65" y="178.57" width="40.75" height="9.83" fill="#ffffcc"/>
<rect x="253.40" y="188.40" width="40.75" height="9.83" fill="#fed976"/>
<rect x="294.15" y="188.40" width="40.75" height="9.83" fill="#fed976"/>
<rect x="334.90" y="188.40" width="40.75" height="9.83" fill="#fed976"/>
<rect x="375.65" y="188.40" width="40.75" height="9.83" fill="#ffffcc"/>
<rect x="253.40" y="198.24" width="40.75" height="9.83" fill="#e31a1c"/>
<rect x="294.15" y="198.24" width="40.75" height="9.83" fill="#bd0026"/>
<rect x="334.90" y="198.24" width="40.75" height="9.83" fill="#e31a1c"/>
<rect x="375.65" y="198.24" width="40.75" height="9.83" fill="#ffeda0"/>
<rect x="253.40" y="208.07" width="40.75" height="9.83" fill="#ffffcc"/>
<rect x="294.15" y="208.07" width="40.75" height="9.83" fill="#ffffcc"/>
<rect x="334.90" y="208.07" width="40.75" height="9.83" fill="#ffffcc"/>
<rect x="375.65" y="208.07" width="40.75" height="9.83" fill="#ffffcc"/>
<rect x="253.40" y="217.90" width="40.75" height="9.83" fill="#fd8d3c"/>
<rect x="294.15" y="217.90" width="40.75" height="9.83" fill="#fd8d3c"/>
<rect x="334.90" y="217.90" width="40.75" height="9.83" fill="#fd8d3c"/>
<rect x="375.65" y="217.90" width="40.75" height="9.83" fill="#ffeda0"/>
<rect x="253.40" y="227.74" width="40.75" height="9.83" fill="#bd0026"/>
<rect x="294.15" y="227.74" width="40.75" height="9.83" fill="#fd8d3c"/>
<rect x="334.90" y="227.74" width="40.75" height="9.83" fill="#fc4e2a"/>
<rect x="375.65" y="227.74" width="40.75" height="9.83" fill="#ffffcc"/>
<rect x="253.40" y="237.57" width="40.75" height="9.83" fill="#feb24c"/>
<rect x="294.15" y="237.57" width="40.75" height="9.83" fill="#feb24c"/>
<rect x="334.90" y="237.57" width="40.75" height="9.83" fill="#feb24c"/>
<rect x="375.65" y="237.57" width="40.75" height="9.83" fill="#ffffcc"/>
<rect x="253.40" y="247.40" width="40.75" height="9.83" fill="#feb24c"/>
<rect x="294.15" y="247.40" width="40.75" height="9.83" fill="#feb24c"/>
<rect x="334.90" y="247.40" width="40.75" height="9.83" fill="#feb24c"/>
<rect x="375.65" y="247.40" width="40.75" height="9.83" fill="#ffeda0"/>
<rect x="253.40" y="257.24" width="40.75" height="9.83" fill="#fed976"/>
<rect x="294.15" y="257.24" width="40.75" height="9.83" fill="#fed976"/>
<rect x="334.90" y="257.24" width="40.75" height="9.83" fill="#fed976"/>
<rect x="375.65" y="257.24" width="40.75" height="9.83" fill="#ffffcc"/>
<rect x="253.40" y="267.07" width="40.75" height="9.83" fill="#fd8d3c"/>
<rect x="294.15" y="267.07" width="40.75" height="9.83" fill="#feb24c"/>
<rect x="334.90" y="267.07" width="40.75" height="9.83" fill="#feb24c"/>
<rect x="375.65" y="267.07" width="40.75" height="9.83" fill="#ffffcc"/>
<rect x="253.40" y="276.90" width="40.75" height="9.83" fill="#fed976"/>
<rect x="294.15" y="276.90" width="40.75" height="9.83" fill="#fed976"/>
<rect x="334.90" y="276.90" width="40.75" height="9.83" fill="#fed976"/>
<rect x="375.65" y="276.90" width="40.75" height="9.83" fill="#ffffcc"/>
<rect x="253.40" y="286.74" width="40.75" height="9.83" fill="#feb24c"/>
<rect x="294.15" y="286.74" width="40.75" height="9.83" fill="#fd8d3c"/>
<rect x="334.90" y="286.74" width="40.75" height="9.83" fill="#fd8d3c"/>
<rect x="375.65" y="286.74" width="40.75" height="9.83" fill="#ffeda0"/>
<line x1="253.4" x2="416.4" y1="188.40" y2="188.40" class="w"/>
<line x1="253.4" x2="416.4" y1="198.24" y2="198.24" class="w"/>
<line x1="253.4" x2="416.4" y1="208.07" y2="208.07" class="w"/>
<line x1="253.4" x2="416.4" y1="217.90" y2="217.90" class="w"/>
<line x1="253.4" x2="416.4" y1="227.74" y2="227.74" class="w"/>
<line x1="253.4" x2="416.4" y1="237.57" y2="237.57" class="w"/>
<line x1="253.4" x2="416.4" y1="247.40" y2="247.40" class="w"/>
<line x1="253.4" x2="416.4" y1="257.24" y2="257.24" class="w"/>
<line x1="253.4" x2="416.4" y1="267.07" y2="267.07" class="w"/>
<line x1="253.4" x2="416.4" y1="276.90" y2="276.90" class="w"/>
<line x1="253.4" x2="416.4" y1="286.74" y2="286.74" class="w"/>
<line x1="253.4" x2="416.4" y1="296.57" y2="296.57" class="w"/>
<line x1="294.15" x2="294.15" y1="178.57" y2="296.57" class="w"/>
<line x1="334.90" x2="334.90" y1="178.57" y2="296.57" class="w"/>
<line x1="375.65" x2="375.65" y1="178.57" y2="296.57" class="w"/>
<path d="M253.4,296.57V178.57H416.4V296.57" class="fr"/>
<text x="273.77" y="185.09" class="c">0.283</text>
<text x="314.52" y="185.09" class="c">0.283</text>
<text x="355.27" y="185.09" class="c">0.283</text>
<text x="396.02" y="185.09" class="c">53</text>
<text x="250.50" y="185.49" class="r">11</text>
<text x="273.77" y="194.92" class="c">0.279</text>
<text x="314.52" y="194.92" class="c">0.274</text>
<text x="355.27" y="194.92" class="c">0.276</text>
<text x="396.02" y="194.92" class="c">62</text>
<text x="250.50" y="195.32" class="r">10</text>
<text x="273.77" y="204.75" class="c cw">0.693</text>
<text x="314.52" y="204.75" class="c cw">0.843</text>
<text x="355.27" y="204.75" class="c cw">0.761</text>
<text x="396.02" y="204.75" class="c">83</text>
<text x="250.50" y="205.15" class="r">9</text>
<text x="273.77" y="214.59" class="c">0.091</text>
<text x="314.52" y="214.59" class="c">0.062</text>
<text x="355.27" y="214.59" class="c">0.074</text>
<text x="396.02" y="214.59" class="c">16</text>
<text x="250.50" y="214.99" class="r">8</text>
<text x="273.77" y="224.42" class="c">0.480</text>
<text x="314.52" y="224.42" class="c">0.450</text>
<text x="355.27" y="224.42" class="c">0.465</text>
<text x="396.02" y="224.42" class="c">80</text>
<text x="250.50" y="224.82" class="r">7</text>
<text x="273.77" y="234.25" class="c cw">0.833</text>
<text x="314.52" y="234.25" class="c">0.526</text>
<text x="355.27" y="234.25" class="c">0.645</text>
<text x="396.02" y="234.25" class="c">19</text>
<text x="250.50" y="234.65" class="r">6</text>
<text x="273.77" y="244.09" class="c">0.364</text>
<text x="314.52" y="244.09" class="c">0.343</text>
<text x="355.27" y="244.09" class="c">0.353</text>
<text x="396.02" y="244.09" class="c">35</text>
<text x="250.50" y="244.49" class="r">5</text>
<text x="273.77" y="253.92" class="c">0.347</text>
<text x="314.52" y="253.92" class="c">0.366</text>
<text x="355.27" y="253.92" class="c">0.356</text>
<text x="396.02" y="253.92" class="c">71</text>
<text x="250.50" y="254.32" class="r">4</text>
<text x="273.77" y="263.75" class="c">0.300</text>
<text x="314.52" y="263.75" class="c">0.300</text>
<text x="355.27" y="263.75" class="c">0.300</text>
<text x="396.02" y="263.75" class="c">20</text>
<text x="250.50" y="264.15" class="r">3</text>
<text x="273.77" y="273.59" class="c">0.529</text>
<text x="314.52" y="273.59" class="c">0.360</text>
<text x="355.27" y="273.59" class="c">0.429</text>
<text x="396.02" y="273.59" class="c">50</text>
<text x="250.50" y="273.99" class="r">2</text>
<text x="273.77" y="283.42" class="c">0.312</text>
<text x="314.52" y="283.42" class="c">0.227</text>
<text x="355.27" y="283.42" class="c">0.263</text>
<text x="396.02" y="283.42" class="c">22</text>
<text x="250.50" y="283.82" class="r">1</text>
<text x="273.77" y="293.25" class="c">0.433</text>
<text x="314.52" y="293.25" class="c">0.536</text>
<text x="355.27" y="293.25" class="c">0.479</text>
<text x="396.02" y="293.25" class="c">84</text>
<text x="250.50" y="293.65" class="r">0</text>
<text x="335.00" y="176.57" class="t">XGBClassifier Classification Report</text>
<text class="x" transform="translate(273.77,307.14) rotate(-45)" y="1.12">precision</text>
<text class="x" transform="translate(314.52,304.32) rotate(-45)" y="1.56">recall</text>
<text class="x" transform="translate(355.27,301.89) rotate(-45)" y="1.58">f1</text>
<text class="x" transform="translate(396.02,306.00) rotate(-45)" y="0.97">support</text>
<rect x="426.1" y="283.46" width="5.7" height="13.16" fill="#ffffcc"/>
<rect x="426.1" y="270.35" width="5.7" height="13.16" fill="#ffeda0"/>
<rect x="426.1" y="257.24" width="5.7" height="13.16" fill="#fed976"/>
<rect x="426.1" y="244.13" width="5.7" height="13.16" fill="#feb24c"/>
<rect x="426.1" y="231.01" width="5.7" height="13.16" fill="#fd8d3c"/>
<rect x="426.1" y="217.90" width="5.7" height="13.16" fill="#fc4e2a"/>
<rect x="426.1" y="204.79" width="5.7" height="13.16" fill="#e31a1c"/>
<rect x="426.1" y="191.68" width="5.7" height="13.16" fill="#bd0026"/>
<rect x="426.1" y="178.57" width="5.7" height="13.16" fill="#800026"/>
<rect x="426.1" y="178.57" width="5.7" height="118" class="cbo"/>
<text x="434.60" y="298.32" class="k">0.0</text>
<text x="434.60" y="274.72" class="k">0.2</text>
<text x="434.60" y="251.12" class="k">0.4</text>
<text x="434.60" y="227.52" class="k">0.6</text>
<text x="434.60" y="203.92" class="k">0.8</text>
<text x="434.60" y="180.32" class="k">1.0</text>
<text x="342.85" y="336.0" class="l le"><tspan class="p">(</tspan>e<tspan class="p" dx="0.2">)</tspan></text>
<rect x="497.50" y="178.57" width="40.75" height="9.83" fill="#ffffcc"/>
<rect x="538.25" y="178.57" width="40.75" height="9.83" fill="#ffffcc"/>
<rect x="579.00" y="178.57" width="40.75" height="9.83" fill="#ffffcc"/>
<rect x="619.75" y="178.57" width="40.75" height="9.83" fill="#ffffcc"/>
<rect x="497.50" y="188.40" width="40.75" height="9.83" fill="#feb24c"/>
<rect x="538.25" y="188.40" width="40.75" height="9.83" fill="#feb24c"/>
<rect x="579.00" y="188.40" width="40.75" height="9.83" fill="#feb24c"/>
<rect x="619.75" y="188.40" width="40.75" height="9.83" fill="#ffffcc"/>
<rect x="497.50" y="198.24" width="40.75" height="9.83" fill="#feb24c"/>
<rect x="538.25" y="198.24" width="40.75" height="9.83" fill="#800026"/>
<rect x="579.00" y="198.24" width="40.75" height="9.83" fill="#fc4e2a"/>
<rect x="619.75" y="198.24" width="40.75" height="9.83" fill="#ffeda0"/>
<rect x="497.50" y="208.07" width="40.75" height="9.83" fill="#ffffcc"/>
<rect x="538.25" y="208.07" width="40.75" height="9.83" fill="#ffffcc"/>
<rect x="579.00" y="208.07" width="40.75" height="9.83" fill="#ffffcc"/>
<rect x="619.75" y="208.07" width="40.75" height="9.83" fill="#ffffcc"/>
<rect x="497.50" y="217.90" width="40.75" height="9.83" fill="#fed976"/>
<rect x="538.25" y="217.90" width="40.75" height="9.83" fill="#feb24c"/>
<rect x="579.00" y="217.90" width="40.75" height="9.83" fill="#fed976"/>
<rect x="619.75" y="217.90" width="40.75" height="9.83" fill="#ffeda0"/>
<rect x="497.50" y="227.74" width="40.75" height="9.83" fill="#feb24c"/>
<rect x="538.25" y="227.74" width="40.75" height="9.83" fill="#fd8d3c"/>
<rect x="579.00" y="227.74" width="40.75" height="9.83" fill="#feb24c"/>
<rect x="619.75" y="227.74" width="40.75" height="9.83" fill="#ffffcc"/>
<rect x="497.50" y="237.57" width="40.75" height="9.83" fill="#ffffcc"/>
<rect x="538.25" y="237.57" width="40.75" height="9.83" fill="#ffffcc"/>
<rect x="579.00" y="237.57" width="40.75" height="9.83" fill="#ffffcc"/>
<rect x="619.75" y="237.57" width="40.75" height="9.83" fill="#ffffcc"/>
<rect x="497.50" y="247.40" width="40.75" height="9.83" fill="#ffeda0"/>
<rect x="538.25" y="247.40" width="40.75" height="9.83" fill="#ffeda0"/>
<rect x="579.00" y="247.40" width="40.75" height="9.83" fill="#ffeda0"/>
<rect x="619.75" y="247.40" width="40.75" height="9.83" fill="#ffeda0"/>
<rect x="497.50" y="257.24" width="40.75" height="9.83" fill="#ffffcc"/>
<rect x="538.25" y="257.24" width="40.75" height="9.83" fill="#ffffcc"/>
<rect x="579.00" y="257.24" width="40.75" height="9.83" fill="#ffffcc"/>
<rect x="619.75" y="257.24" width="40.75" height="9.83" fill="#ffffcc"/>
<rect x="497.50" y="267.07" width="40.75" height="9.83" fill="#ffeda0"/>
<rect x="538.25" y="267.07" width="40.75" height="9.83" fill="#ffffcc"/>
<rect x="579.00" y="267.07" width="40.75" height="9.83" fill="#ffffcc"/>
<rect x="619.75" y="267.07" width="40.75" height="9.83" fill="#ffffcc"/>
<rect x="497.50" y="276.90" width="40.75" height="9.83" fill="#ffffcc"/>
<rect x="538.25" y="276.90" width="40.75" height="9.83" fill="#ffffcc"/>
<rect x="579.00" y="276.90" width="40.75" height="9.83" fill="#ffffcc"/>
<rect x="619.75" y="276.90" width="40.75" height="9.83" fill="#ffffcc"/>
<rect x="497.50" y="286.74" width="40.75" height="9.83" fill="#fed976"/>
<rect x="538.25" y="286.74" width="40.75" height="9.83" fill="#fc4e2a"/>
<rect x="579.00" y="286.74" width="40.75" height="9.83" fill="#feb24c"/>
<rect x="619.75" y="286.74" width="40.75" height="9.83" fill="#ffeda0"/>
<line x1="497.5" x2="660.5" y1="188.40" y2="188.40" class="w"/>
<line x1="497.5" x2="660.5" y1="198.24" y2="198.24" class="w"/>
<line x1="497.5" x2="660.5" y1="208.07" y2="208.07" class="w"/>
<line x1="497.5" x2="660.5" y1="217.90" y2="217.90" class="w"/>
<line x1="497.5" x2="660.5" y1="227.74" y2="227.74" class="w"/>
<line x1="497.5" x2="660.5" y1="237.57" y2="237.57" class="w"/>
<line x1="497.5" x2="660.5" y1="247.40" y2="247.40" class="w"/>
<line x1="497.5" x2="660.5" y1="257.24" y2="257.24" class="w"/>
<line x1="497.5" x2="660.5" y1="267.07" y2="267.07" class="w"/>
<line x1="497.5" x2="660.5" y1="276.90" y2="276.90" class="w"/>
<line x1="497.5" x2="660.5" y1="286.74" y2="286.74" class="w"/>
<line x1="497.5" x2="660.5" y1="296.57" y2="296.57" class="w"/>
<line x1="538.25" x2="538.25" y1="178.57" y2="296.57" class="w"/>
<line x1="579.00" x2="579.00" y1="178.57" y2="296.57" class="w"/>
<line x1="619.75" x2="619.75" y1="178.57" y2="296.57" class="w"/>
<path d="M497.5,296.57V178.57H660.5V296.57" class="fr"/>
<text x="517.88" y="185.09" class="c">0.000</text>
<text x="558.62" y="185.09" class="c">0.000</text>
<text x="599.38" y="185.09" class="c">0.000</text>
<text x="640.12" y="185.09" class="c">53</text>
<text x="494.60" y="185.49" class="r">11</text>
<text x="517.88" y="194.92" class="c">0.393</text>
<text x="558.62" y="194.92" class="c">0.387</text>
<text x="599.38" y="194.92" class="c">0.390</text>
<text x="640.12" y="194.92" class="c">62</text>
<text x="494.60" y="195.32" class="r">10</text>
<text x="517.88" y="204.75" class="c">0.424</text>
<text x="558.62" y="204.75" class="c cw">0.904</text>
<text x="599.38" y="204.75" class="c">0.577</text>
<text x="640.12" y="204.75" class="c">83</text>
<text x="494.60" y="205.15" class="r">9</text>
<text x="517.88" y="214.59" class="c">0.000</text>
<text x="558.62" y="214.59" class="c">0.000</text>
<text x="599.38" y="214.59" class="c">0.000</text>
<text x="640.12" y="214.59" class="c">16</text>
<text x="494.60" y="214.99" class="r">8</text>
<text x="517.88" y="224.42" class="c">0.270</text>
<text x="558.62" y="224.42" class="c">0.338</text>
<text x="599.38" y="224.42" class="c">0.300</text>
<text x="640.12" y="224.42" class="c">80</text>
<text x="494.60" y="224.82" class="r">7</text>
<text x="517.88" y="234.25" class="c">0.370</text>
<text x="558.62" y="234.25" class="c">0.526</text>
<text x="599.38" y="234.25" class="c">0.435</text>
<text x="640.12" y="234.25" class="c">19</text>
<text x="494.60" y="234.65" class="r">6</text>
<text x="517.88" y="244.09" class="c">0.000</text>
<text x="558.62" y="244.09" class="c">0.000</text>
<text x="599.38" y="244.09" class="c">0.000</text>
<text x="640.12" y="244.09" class="c">35</text>
<text x="494.60" y="244.49" class="r">5</text>
<text x="517.88" y="253.92" class="c">0.196</text>
<text x="558.62" y="253.92" class="c">0.141</text>
<text x="599.38" y="253.92" class="c">0.164</text>
<text x="640.12" y="253.92" class="c">71</text>
<text x="494.60" y="254.32" class="r">4</text>
<text x="517.88" y="263.75" class="c">0.000</text>
<text x="558.62" y="263.75" class="c">0.000</text>
<text x="599.38" y="263.75" class="c">0.000</text>
<text x="640.12" y="263.75" class="c">20</text>
<text x="494.60" y="264.15" class="r">3</text>
<text x="517.88" y="273.59" class="c">0.182</text>
<text x="558.62" y="273.59" class="c">0.040</text>
<text x="599.38" y="273.59" class="c">0.066</text>
<text x="640.12" y="273.59" class="c">50</text>
<text x="494.60" y="273.99" class="r">2</text>
<text x="517.88" y="283.42" class="c">0.000</text>
<text x="558.62" y="283.42" class="c">0.000</text>
<text x="599.38" y="283.42" class="c">0.000</text>
<text x="640.12" y="283.42" class="c">22</text>
<text x="494.60" y="283.82" class="r">1</text>
<text x="517.88" y="293.25" class="c">0.286</text>
<text x="558.62" y="293.25" class="c">0.571</text>
<text x="599.38" y="293.25" class="c">0.381</text>
<text x="640.12" y="293.25" class="c">84</text>
<text x="494.60" y="293.65" class="r">0</text>
<text x="579.10" y="176.57" class="t">MLPClassifier Classification Report</text>
<text class="x" transform="translate(517.88,307.14) rotate(-45)" y="1.12">precision</text>
<text class="x" transform="translate(558.62,304.32) rotate(-45)" y="1.56">recall</text>
<text class="x" transform="translate(599.38,301.89) rotate(-45)" y="1.58">f1</text>
<text class="x" transform="translate(640.12,306.00) rotate(-45)" y="0.97">support</text>
<rect x="670.6" y="283.46" width="5.7" height="13.16" fill="#ffffcc"/>
<rect x="670.6" y="270.35" width="5.7" height="13.16" fill="#ffeda0"/>
<rect x="670.6" y="257.24" width="5.7" height="13.16" fill="#fed976"/>
<rect x="670.6" y="244.13" width="5.7" height="13.16" fill="#feb24c"/>
<rect x="670.6" y="231.01" width="5.7" height="13.16" fill="#fd8d3c"/>
<rect x="670.6" y="217.90" width="5.7" height="13.16" fill="#fc4e2a"/>
<rect x="670.6" y="204.79" width="5.7" height="13.16" fill="#e31a1c"/>
<rect x="670.6" y="191.68" width="5.7" height="13.16" fill="#bd0026"/>
<rect x="670.6" y="178.57" width="5.7" height="13.16" fill="#800026"/>
<rect x="670.6" y="178.57" width="5.7" height="118" class="cbo"/>
<text x="679.10" y="298.32" class="k">0.0</text>
<text x="679.10" y="274.72" class="k">0.2</text>
<text x="679.10" y="251.12" class="k">0.4</text>
<text x="679.10" y="227.52" class="k">0.6</text>
<text x="679.10" y="203.92" class="k">0.8</text>
<text x="679.10" y="180.32" class="k">1.0</text>
<text x="586.95" y="336.0" class="l"><tspan class="p">(</tspan>f<tspan class="p" dx="0.9">)</tspan></text>
</svg>
</body></html>
